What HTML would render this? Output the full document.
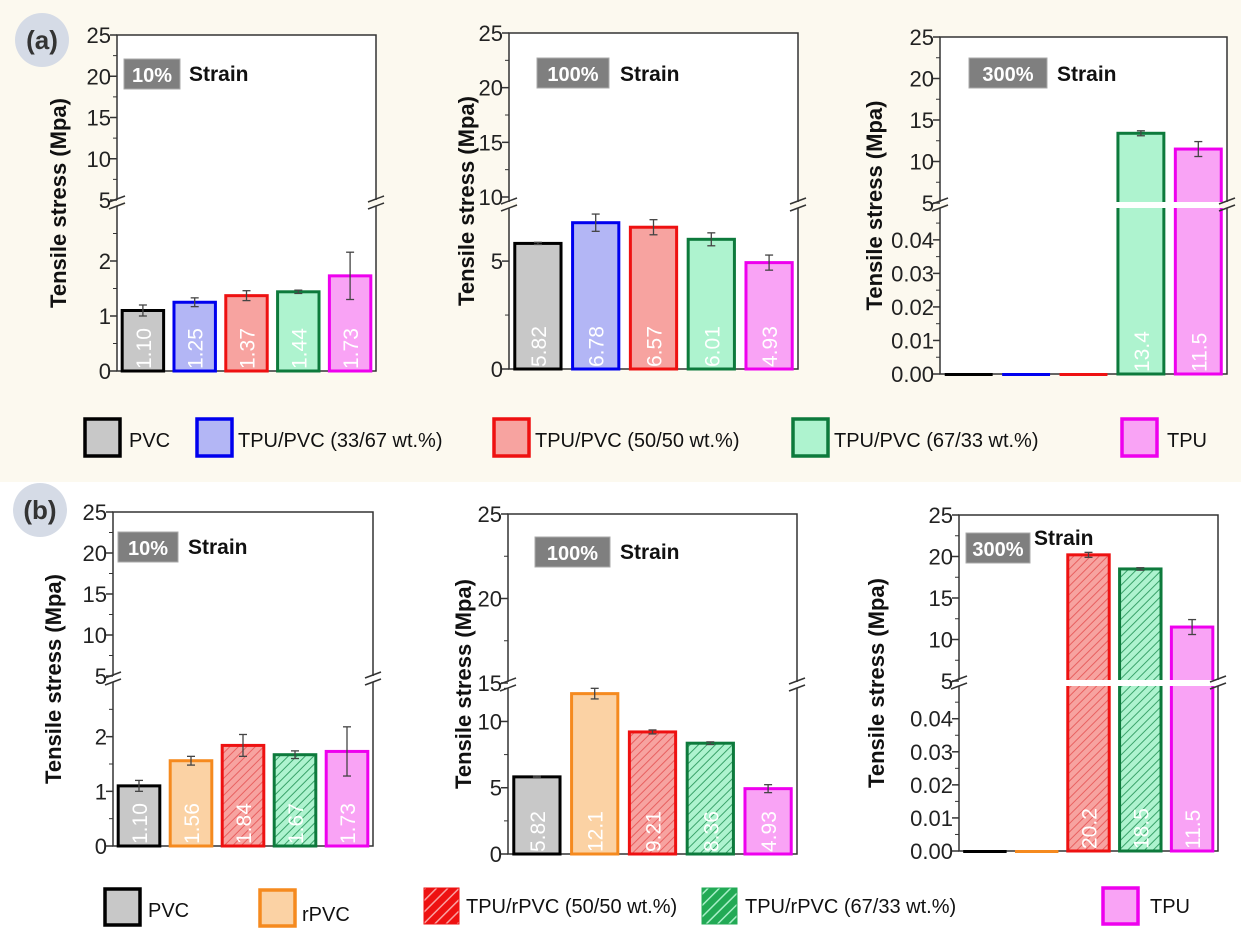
<!DOCTYPE html>
<html><head><meta charset="utf-8"><style>
html,body{margin:0;padding:0;background:#fff}
svg{display:block;font-family:"Liberation Sans",Arial,sans-serif}
</style></head><body>
<svg id="fig" width="1241" height="936" viewBox="0 0 1241 936" xmlns="http://www.w3.org/2000/svg">
<defs>
<pattern id="hatchRed" patternUnits="userSpaceOnUse" width="6" height="6" patternTransform="rotate(45)">
<rect width="6" height="6" fill="#f7a3a0"/><line x1="0" y1="0" x2="0" y2="6" stroke="#e86060" stroke-width="2"/></pattern>
<pattern id="hatchGreen" patternUnits="userSpaceOnUse" width="6" height="6" patternTransform="rotate(45)">
<rect width="6" height="6" fill="#aef3cf"/><line x1="0" y1="0" x2="0" y2="6" stroke="#3aa36a" stroke-width="2"/></pattern>
<pattern id="hatchRedL" patternUnits="userSpaceOnUse" width="8" height="8" patternTransform="rotate(45)">
<rect width="8" height="8" fill="#ee1111"/><line x1="0" y1="0" x2="0" y2="8" stroke="#f9a0a0" stroke-width="3"/></pattern>
<pattern id="hatchGreenL" patternUnits="userSpaceOnUse" width="8" height="8" patternTransform="rotate(45)">
<rect width="8" height="8" fill="#22aa55"/><line x1="0" y1="0" x2="0" y2="8" stroke="#a8efc8" stroke-width="3"/></pattern>
</defs>
<rect x="0" y="0" width="1241" height="482" fill="#fcf9ef"/>
<g id="root"></g>
</svg>
<script>
// ---- data ----
const labelsA = ["PVC","TPU/PVC (33/67 wt.%)","TPU/PVC (50/50 wt.%)","TPU/PVC (67/33 wt.%)","TPU"];
const labelsB = ["PVC","rPVC","TPU/rPVC (50/50 wt.%)","TPU/rPVC (67/33 wt.%)","TPU"];
const a10Values = [1.10,1.25,1.37,1.44,1.73];
const a10Errors = [0.10,0.08,0.09,0.03,0.43];
const a100Values = [5.82,6.78,6.57,6.01,4.93];
const a100Errors = [0.05,0.40,0.35,0.30,0.35];
const a300Values = [0,0,0,13.4,11.5];
const a300Errors = [0,0,0,0.3,0.9];
const b10Values = [1.10,1.56,1.84,1.67,1.73];
const b10Errors = [0.10,0.08,0.20,0.07,0.45];
const b100Values = [5.82,12.1,9.21,8.36,4.93];
const b100Errors = [0.05,0.40,0.15,0.10,0.30];
const b300Values = [0,0,20.2,18.5,11.5];
const b300Errors = [0,0,0.3,0.15,0.9];
const a10Text = ["1.10","1.25","1.37","1.44","1.73"];
const a100Text = ["5.82","6.78","6.57","6.01","4.93"];
const a300Text = ["","","","13.4","11.5"];
const b10Text = ["1.10","1.56","1.84","1.67","1.73"];
const b100Text = ["5.82","12.1","9.21","8.36","4.93"];
const b300Text = ["","","20.2","18.5","11.5"];
const upperTicks1 = [5,10,15,20,25];
const upperTicks2 = [10,15,20,25];
const upperTicks3 = [15,20,25];
const lowerTicks1 = [0,1,2];
const lowerTicks2 = [0,5];
const lowerTicks3 = [0,0.01,0.02,0.03,0.04];
const lowerTicks4 = [0,5,10];

const fillsA = ["#c8c8c8","#b3b6f5","#f7a3a0","#aef3cf","#f9a3f5"];
const strokesA = ["#000","#0000ee","#ee1111","#0d7a3c","#ee00ee"];
const fillsB = ["#c8c8c8","#fbd2a4","url(#hatchRed)","url(#hatchGreen)","#f9a3f5"];
const strokesB = ["#000","#f58a1f","#ee1111","#0d7a3c","#ee00ee"];

const NS="http://www.w3.org/2000/svg";
const root=document.getElementById('root');
function el(tag,attrs,parent,text){const e=document.createElementNS(NS,tag);for(const k in attrs)e.setAttribute(k,attrs[k]);if(text!==undefined)e.textContent=text;(parent||root).appendChild(e);return e;}

function panel(p){
  const g=el('g',{});
  
  
  const yU=v=>p.uY0+(v-p.uMin)*(p.uY1-p.uY0)/(p.uMax-p.uMin);
  const yL=v=>p.bot+(v-0)*(p.lY1-p.bot)/(p.lMax);
  const yv=v=>v<=p.lMax?yL(v):yU(v);
  const sp=(p.x1-p.x0)/5, bw=sp*0.8;
  const fr=el('rect',{x:p.x0,y:p.top,width:p.x1-p.x0,height:p.bot-p.top,fill:'#fff',stroke:'#333','stroke-width':1.5},g);
  
  
  p.values.forEach((v,i)=>{
    const cx=p.x0+(i+0.5)*sp, yt=yv(v);
    const b=el('rect',{x:cx-bw/2,y:yt,width:bw,height:Math.max(p.bot-yt,1),fill:p.fills[i],stroke:p.strokes[i],'stroke-width':v>0?3:2},g);
    
    
    if(p.errors[i]>0){
      const e1=yv(v+p.errors[i]), e2=yv(v-p.errors[i]);
      el('line',{x1:cx,x2:cx,y1:e1,y2:e2,stroke:'#444','stroke-width':1.3},g);
      el('line',{x1:cx-4,x2:cx+4,y1:e1,y2:e1,stroke:'#444','stroke-width':1.3},g);
      el('line',{x1:cx-4,x2:cx+4,y1:e2,y2:e2,stroke:'#444','stroke-width':1.3},g);
    }
    if(p.text[i]){
      const t=el('text',{x:0,y:0,transform:`translate(${cx+8},${p.bot-2}) rotate(-90)`,fill:'#fff','font-size':21},g,p.text[i]);
      
      
    }
  });
  if(p.gap){el('rect',{x:p.x0+2,y:p.brk-3,width:p.x1-p.x0-4,height:6,fill:'#fff'},g);}
  [p.x0,p.x1].forEach(x=>{el('rect',{x:x-8,y:p.brk-3,width:16,height:6,fill:p.bg},g);
    el('line',{x1:x-8,y1:p.brk-1,x2:x+8,y2:p.brk-7,stroke:'#333','stroke-width':1.5},g);
    el('line',{x1:x-8,y1:p.brk+6,x2:x+8,y2:p.brk,stroke:'#333','stroke-width':1.5},g);});
  const tick=(y,lab)=>{el('line',{x1:p.x0,x2:p.x0-7,y1:y,y2:y,stroke:'#333','stroke-width':1.5},g);
    const t=el('text',{x:p.x0-6,y:y+8,'text-anchor':'end','font-size':22,fill:'#222'},g,lab);
    };
  p.uTicks.forEach(v=>{tick(yU(v),String(v));const m=yU(v+2.5);if(v<p.uMax&&m>p.top)el('line',{x1:p.x0,x2:p.x0-4,y1:m,y2:m,stroke:'#333'},g);});
  p.lTicks.forEach(v=>{tick(yL(v),p.dec?v.toFixed(2):String(v));const m=yL(v+p.lStep/2);if(m>p.brk+3)el('line',{x1:p.x0,x2:p.x0-4,y1:m,y2:m,stroke:'#333'},g);});
  const sb=el('rect',{x:p.sx,y:p.sy,width:p.sw,height:30,fill:'#7f7f7f',stroke:'#aaa'},g);
  
  el('text',{x:p.sx+p.sw/2,y:p.sy+23,'text-anchor':'middle',fill:'#fff','font-weight':'bold','font-size':20},g,p.strain);
  el('text',{x:p.stx,y:p.sty,'font-weight':'bold','font-size':21,fill:'#111'},g,'Strain');
  const yt=el('text',{transform:`translate(${p.tx},${(p.top+p.bot)/2}) rotate(-90)`,'text-anchor':'middle','font-weight':'bold','font-size':22,fill:'#111'},g,'Tensile  stress (Mpa)');
  
}
const cream='#fcf9ef';
panel({name:'panel-a-10-strain',x0:117,x1:376,top:35,bot:371,brk:203,uMin:5,uMax:25,uY0:200,uY1:35,lMax:3,lY1:206,lStep:1,uTicks:upperTicks1,lTicks:lowerTicks1,values:a10Values,errors:a10Errors,text:a10Text,fills:fillsA,strokes:strokesA,bg:cream,sx:124,sy:59,sw:56,strain:'10%',stx:189,sty:81,tx:66});
panel({name:'panel-a-100-strain',x0:509,x1:798,top:33,bot:369,brk:205,uMin:10,uMax:25,uY0:197,uY1:33,lMax:7.6,lY1:205,lStep:5,uTicks:upperTicks2,lTicks:lowerTicks2,values:a100Values,errors:a100Errors,text:a100Text,fills:fillsA,strokes:strokesA,bg:cream,sx:537,sy:58,sw:72,strain:'100%',stx:620,sty:81,tx:474});
panel({name:'panel-a-300-strain',x0:940,x1:1227,top:37,bot:374,brk:205,gap:true,uMin:5,uMax:25,uY0:203,uY1:37,lMax:0.0495,lY1:208,lStep:0.01,dec:true,uTicks:upperTicks1,lTicks:lowerTicks3,values:a300Values,errors:a300Errors,text:a300Text,fills:fillsA,strokes:strokesA,bg:cream,sx:969,sy:58,sw:78,strain:'300%',stx:1057,sty:81,tx:882});
panel({name:'panel-b-10-strain',x0:113,x1:373,top:512,bot:846,brk:679,uMin:5,uMax:25,uY0:676,uY1:512,lMax:3,lY1:682,lStep:1,uTicks:upperTicks1,lTicks:lowerTicks1,values:b10Values,errors:b10Errors,text:b10Text,fills:fillsB,strokes:strokesB,bg:'#fff',sx:118,sy:532,sw:60,strain:'10%',stx:188,sty:554,tx:61});
panel({name:'panel-b-100-strain',x0:508,x1:797,top:514,bot:854,brk:685,uMin:15,uMax:25,uY0:683,uY1:514,lMax:12.6,lY1:687,lStep:5,uTicks:upperTicks3,lTicks:lowerTicks4,values:b100Values,errors:b100Errors,text:b100Text,fills:fillsB,strokes:strokesB,bg:'#fff',sx:535,sy:537,sw:75,strain:'100%',stx:620,sty:559,tx:471});
panel({name:'panel-b-300-strain',x0:959,x1:1218,top:515,bot:851,brk:683,gap:true,uMin:5,uMax:25,uY0:681,uY1:515,lMax:0.0505,lY1:684,lStep:0.01,dec:true,uTicks:upperTicks1,lTicks:lowerTicks3,values:b300Values,errors:b300Errors,text:b300Text,fills:fillsB,strokes:strokesB,bg:'#fff',sx:966,sy:533,sw:64,strain:'300%',stx:1034,sty:545,tx:884});

[['(a)',42,40],['(b)',40,510]].forEach(([t,x,y])=>{
  const c=el('circle',{cx:x,cy:y,r:27,fill:'#d5dbe6'});
  
  el('text',{x:x,y:y+9,'text-anchor':'middle','font-weight':'bold','font-size':26,fill:'#333'},root,t);
});
const legA=[[85,419],[197,419],[494,419],[793,419],[1122,419]];
const legAx=[129,238,535,834,1167];
labelsA.forEach((l,i)=>{
  const r=el('rect',{x:legA[i][0],y:legA[i][1],width:35,height:37,fill:fillsA[i],stroke:strokesA[i],'stroke-width':3.5});
  
  const t=el('text',{x:legAx[i],y:447,'font-size':20,fill:'#111'},root,l);
  
});
const legB=[[105,889],[260,890],[424,888],[702,888],[1103,888]];
const legBx=[148,302,466,745,1150];
const legBy=[917,921,913,913,913];
const legFillB=["#c8c8c8","#fbd2a4","url(#hatchRedL)","url(#hatchGreenL)","#f9a3f5"];
labelsB.forEach((l,i)=>{
  const r=el('rect',{x:legB[i][0],y:legB[i][1],width:35,height:36,fill:legFillB[i],stroke:i==2?'#ee1111':i==3?'#22aa55':strokesB[i],'stroke-width':i>=2&&i<=3?1:3.5});
  
  const t=el('text',{x:legBx[i],y:legBy[i],'font-size':20,fill:'#111'},root,l);
  
});
</script>
</body></html>
